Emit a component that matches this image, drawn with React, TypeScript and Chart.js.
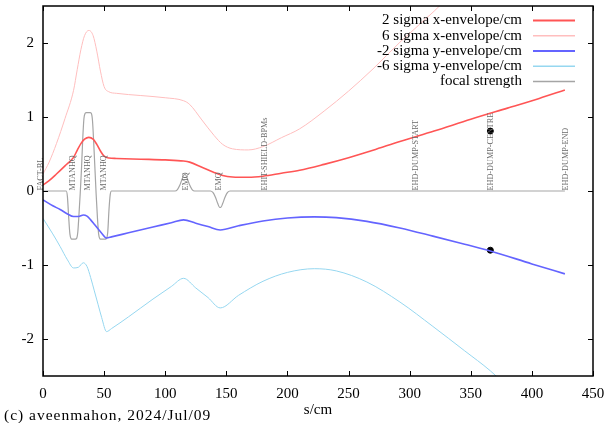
import React, { useEffect, useRef } from 'react';
import { Chart, registerables } from 'chart.js';
Chart.register(...registerables);

const xTickValues = [0, 50, 100, 150, 200, 250, 300, 350, 400, 450];
const yTickValues = [-2, -1, 0, 1, 2];

const seriesLabels = [
  '2 sigma x-envelope/cm',
  '6 sigma x-envelope/cm',
  '-2 sigma y-envelope/cm',
  '-6 sigma y-envelope/cm',
  'focal strength',
];

const xEnvS = [0, 5, 11, 18, 25, 28, 31, 34, 37.5, 41, 44, 47, 50, 54, 60, 80, 100, 115, 120, 130, 140, 147, 155, 168, 180, 195, 210, 230, 250, 270, 292, 320, 350, 380, 406, 427];
const xEnv2Sigma = [0.08, 0.14, 0.23, 0.34, 0.455, 0.55, 0.64, 0.70, 0.725, 0.70, 0.63, 0.54, 0.47, 0.445, 0.44, 0.43, 0.42, 0.405, 0.39, 0.32, 0.25, 0.21, 0.19, 0.185, 0.20, 0.24, 0.28, 0.36, 0.45, 0.55, 0.67, 0.81, 0.97, 1.12, 1.25, 1.365];
const xEnv6Sigma = [0.23, 0.39, 0.64, 0.98, 1.36, 1.64, 1.91, 2.1, 2.17, 2.1, 1.89, 1.62, 1.41, 1.34, 1.32, 1.29, 1.26, 1.22, 1.17, 0.96, 0.75, 0.63, 0.57, 0.555, 0.6, 0.72, 0.84, 1.08, 1.35, 1.65, 2.01, 2.43, 2.91, 3.36, 3.75, 4.1];

const yEnvS = [0, 8, 14, 20, 25, 29, 33, 36, 39, 42, 45, 48, 52, 56, 70, 90, 105, 115, 125, 135, 145, 160, 180, 200, 222, 240, 265, 292, 319, 345, 366, 400, 427];
const yEnv2Sigma = [-0.12, -0.2, -0.25, -0.31, -0.345, -0.345, -0.325, -0.34, -0.39, -0.45, -0.51, -0.57, -0.635, -0.62, -0.565, -0.487, -0.429, -0.39, -0.436, -0.481, -0.527, -0.47, -0.405, -0.365, -0.35, -0.36, -0.41, -0.5, -0.61, -0.72, -0.81, -0.985, -1.12];
const yEnv6Sigma = [-0.37, -0.58, -0.75, -0.93, -1.04, -1.03, -0.97, -1.02, -1.17, -1.35, -1.53, -1.71, -1.9, -1.86, -1.7, -1.46, -1.29, -1.18, -1.31, -1.44, -1.58, -1.41, -1.22, -1.1, -1.05, -1.08, -1.23, -1.5, -1.83, -2.16, -2.43, -2.96, -3.36];

const focalS = [0, 19, 20, 21, 22, 23, 24, 26.5, 27.5, 28.5, 29.5, 30.5, 31.5, 32.5, 33.5, 34.5, 35.5, 38.5, 39.5, 40.5, 41.5, 42.5, 43.5, 44.5, 45.5, 46.5, 47.5, 51, 52, 53, 54, 55, 56, 108, 110, 112, 114, 115.5, 116.5, 118, 120, 122, 124, 137, 139, 141, 143, 144.5, 145.5, 147, 149, 151, 153, 427];
const focalStrength = [0, 0, -0.08, -0.35, -0.58, -0.645, -0.65, -0.65, -0.64, -0.55, -0.3, -0.02, 0.3, 0.7, 0.98, 1.05, 1.06, 1.06, 1.05, 0.95, 0.65, 0.3, -0.05, -0.35, -0.58, -0.645, -0.65, -0.65, -0.64, -0.55, -0.25, -0.05, 0, 0, 0.02, 0.08, 0.17, 0.22, 0.22, 0.17, 0.08, 0.02, 0, 0, -0.02, -0.08, -0.17, -0.22, -0.22, -0.17, -0.08, -0.02, 0, 0];

const markerS = [366, 366];
const markerValue = [0.81, -0.8];

const elementNames = ['FACT-BL', 'MTANHQ', 'MTANHQ', 'MTANHQ', 'EMQ', 'EMQ', 'EHIT-SHIELD-BPMs', 'EHD-DUMP-START', 'EHD-DUMP-CENTRE', 'EHD-DUMP-END'];
const elementS = [-1.5, 24.1, 36.4, 49.9, 116.5, 144.2, 181.6, 305, 366.3, 427.7];

const xAxisTitle = 's/cm';
const copyrightText = '(c) aveenmahon, 2024/Jul/09';

const FONT = '"Liberation Serif", "Times New Roman", serif';

const pts = (xs: number[], ys: number[]) => xs.map((x, i) => ({ x, y: ys[i] }));

const decor = {
  id: 'gnuplotDecor',
  afterDatasetsDraw(chart: any) {
    const { ctx, chartArea: a, scales } = chart;
    const xs = scales.x;
    const ys = scales.y;
    ctx.save();
    // element labels
    ctx.font = `8.2px ${FONT}`;
    ctx.fillStyle = '#6a6a6a';
    ctx.textAlign = 'left';
    ctx.textBaseline = 'middle';
    const y0 = ys.getPixelForValue(0);
    elementNames.forEach((n, i) => {
      const px = xs.getPixelForValue(elementS[i]);
      ctx.save();
      ctx.translate(px, y0 - 0.5);
      ctx.rotate(-Math.PI / 2);
      ctx.fillText(n, 0, 0);
      ctx.restore();
    });
    // frame
    ctx.strokeStyle = '#000';
    ctx.lineWidth = 1.5;
    ctx.strokeRect(a.left, a.top, a.right - a.left, a.bottom - a.top);
    // inward ticks on all sides
    ctx.lineWidth = 1;
    ctx.beginPath();
    xTickValues.forEach((v) => {
      const p = Math.round(xs.getPixelForValue(v)) + 0.5;
      ctx.moveTo(p, a.bottom);
      ctx.lineTo(p, a.bottom - 5);
      ctx.moveTo(p, a.top);
      ctx.lineTo(p, a.top + 5);
    });
    yTickValues.forEach((v) => {
      const p = Math.round(ys.getPixelForValue(v)) + 0.5;
      ctx.moveTo(a.left, p);
      ctx.lineTo(a.left + 5, p);
      ctx.moveTo(a.right, p);
      ctx.lineTo(a.right - 5, p);
    });
    ctx.stroke();
    // key
    ctx.font = `15px ${FONT}`;
    ctx.textAlign = 'right';
    ctx.textBaseline = 'middle';
    ctx.fillStyle = '#000';
    chart.data.datasets
      .filter((d: any) => d.inKey)
      .forEach((d: any, i: number) => {
        const yy = a.top + 14.5 + i * 15.25;
        ctx.fillText(d.label, a.right - 71, yy);
        ctx.strokeStyle = d.borderColor;
        ctx.lineWidth = d.borderWidth + 0.4;
        ctx.beginPath();
        ctx.moveTo(a.right - 60, yy);
        ctx.lineTo(a.right - 18, yy);
        ctx.stroke();
      });
    // titles
    ctx.textBaseline = 'alphabetic';
    ctx.textAlign = 'center';
    ctx.fillText(xAxisTitle, (a.left + a.right) / 2, chart.height - 9);
    ctx.textAlign = 'left';
    ctx.font = `15.5px ${FONT}`;
    try {
      (ctx as any).letterSpacing = '1px';
    } catch (e) {
      /* ignore */
    }
    ctx.fillText(copyrightText, 4, chart.height - 3);
    ctx.restore();
  },
};

export default function App() {
  const ref = useRef<HTMLCanvasElement>(null);
  useEffect(() => {
    if (!ref.current) return;
    const lineBase = {
      type: 'line' as const,
      pointRadius: 0,
      cubicInterpolationMode: 'monotone' as const,
      fill: false,
      inKey: true,
    };
    const chart = new Chart(ref.current, {
      type: 'line',
      data: {
        datasets: [
          { ...lineBase, label: seriesLabels[0], data: pts(xEnvS, xEnv2Sigma), borderColor: 'rgb(255,85,85)', borderWidth: 1.6 },
          { ...lineBase, label: seriesLabels[1], data: pts(xEnvS, xEnv6Sigma), borderColor: 'rgb(255,190,190)', borderWidth: 1 },
          { ...lineBase, label: seriesLabels[2], data: pts(yEnvS, yEnv2Sigma), borderColor: 'rgb(100,100,255)', borderWidth: 1.6 },
          { ...lineBase, label: seriesLabels[3], data: pts(yEnvS, yEnv6Sigma), borderColor: 'rgb(150,215,240)', borderWidth: 1 },
          { ...lineBase, label: seriesLabels[4], data: pts(focalS, focalStrength), borderColor: 'rgb(165,165,165)', borderWidth: 1.2 },
          {
            type: 'line' as const,
            label: 'markers',
            inKey: false,
            showLine: false,
            data: pts(markerS, markerValue),
            pointRadius: 3,
            pointBackgroundColor: '#000',
            pointBorderColor: '#000',
            borderColor: '#000',
          } as any,
        ] as any,
      },
      options: {
        animation: false,
        responsive: true,
        maintainAspectRatio: false,
        layout: { padding: { top: 6, right: 15, left: 0, bottom: 0 } },
        plugins: { legend: { display: false }, tooltip: { enabled: false } },
        scales: {
          x: {
            type: 'linear',
            min: 0,
            max: 450,
            afterBuildTicks: (s: any) => {
              s.ticks = xTickValues.map((v) => ({ value: v }));
            },
            afterFit: (s: any) => {
              s.height = 47;
              s.paddingLeft = 0;
              s.paddingRight = 0;
              s.paddingTop = 0;
              s.paddingBottom = 0;
            },
            grid: { display: false, drawTicks: false },
            border: { display: false },
            ticks: {
              color: '#000',
              font: { family: FONT, size: 15 },
              padding: 9,
              maxRotation: 0,
              autoSkip: false,
              callback: (v: any) => String(v),
            },
          },
          y: {
            type: 'linear',
            min: -2.5,
            max: 2.5,
            afterBuildTicks: (s: any) => {
              s.ticks = yTickValues.map((v) => ({ value: v }));
            },
            afterFit: (s: any) => {
              s.width = 43;
              s.paddingLeft = 0;
              s.paddingRight = 0;
              s.paddingTop = 0;
              s.paddingBottom = 0;
            },
            grid: { display: false, drawTicks: false },
            border: { display: false },
            ticks: {
              color: '#000',
              font: { family: FONT, size: 15 },
              padding: 9,
              callback: (v: any) => String(v),
            },
          },
        },
      } as any,
      plugins: [decor],
    });
    return () => chart.destroy();
  }, []);
  return (
    <div style={{ position: 'fixed', left: 0, top: 0, width: 608, height: 423, background: '#fff' }}>
      <canvas ref={ref} />
    </div>
  );
}
